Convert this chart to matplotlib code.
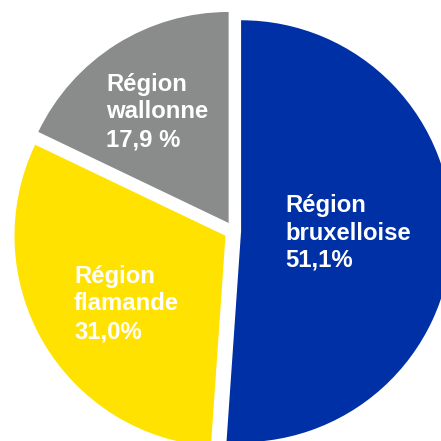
import matplotlib
matplotlib.use("Agg")
import matplotlib.pyplot as plt

# shares of the three regions (percent)
regions = ["Région bruxelloise", "Région wallonne", "Région flamande"]
shares = [51.1, 17.9, 31.0]
share_text = ["51,1%", "17,9 %", "31,0%"]
colors = ["#0030a5", "#8a8c8c", "#ffe200"]

plt.rcParams["font.family"] = ["Liberation Sans", "DejaVu Sans"]

fig = plt.figure(figsize=(4.41, 4.41), dpi=100)
ax = fig.add_axes([0, 0, 1, 1])

# blue slice starts at 12 o'clock going clockwise, then grey, then yellow
ax.pie(shares, colors=colors, startangle=90 - 360 * shares[0] / 100,
       counterclock=True, explode=[0.035, 0.045, 0.045],
       wedgeprops=dict(linewidth=0))
ax.set_xlim(-1.1076, 0.9825)
ax.set_ylim(-0.9953, 1.0948)
ax.axis("off")

# labels, in pixel coords of the 441x441 picture
label_pos = [(285, 194), (106, 73), (74, 265)]
for name, txt, (px, py) in zip(regions, share_text, label_pos):
    first, second = name.split(" ")
    fig.text(px / 441, 1 - py / 441, f"{first}\n{second}\n{txt}",
             ha="left", va="top", color="white", fontsize=17.2,
             fontweight="bold", linespacing=1.25)

fig.savefig("out.png", dpi=100)
